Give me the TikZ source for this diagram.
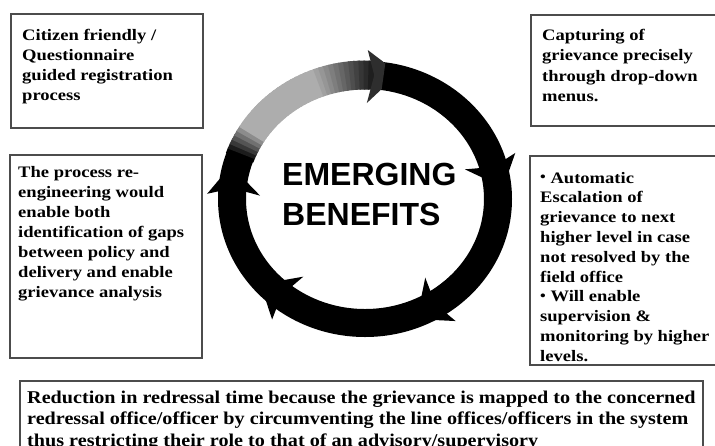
\documentclass[tikz,border=0pt]{standalone}
\usepackage{fontspec}
\setmainfont{Liberation Serif}
\newfontfamily\boxfont[FakeStretch=1.16]{Liberation Serif}
\newfontfamily\botfont[FakeStretch=1.12]{Liberation Serif}
\newfontfamily\headfont{Liberation Sans}
\newcommand{\smbullet}{\raisebox{1.5pt}{\fontsize{14}{14}\selectfont\textbullet}}
\begin{document}
\begin{tikzpicture}[x=1pt,y=-1pt,
  declare function={ex(\t,\d)=365+(133+\d)*cos(\t); ey(\t,\d)=199-(124+\d)*sin(\t);},
  boxline/.style={draw=black!70, line width=1.1pt},
  boxtext/.style={anchor=base west, inner sep=0pt, font=\boxfont\bfseries},
  bottext/.style={anchor=base west, inner sep=0pt, font=\botfont\bfseries},
  headtext/.style={anchor=base west, inner sep=0pt, font=\headfont\bfseries},
]
\clip (0,0) rectangle (715,445);
\fill[white] (0,0) rectangle (715,445);

% boxes
\draw[boxline] (11,14) rectangle (203,128);
\draw[boxline] (531,15) rectangle (725,126);
\draw[boxline] (10,155) rectangle (202,358);
\draw[boxline] (530,156) rectangle (725,365);
\draw[boxline] (20,381) rectangle (703,460);

% box texts
\node[boxtext] (t1) at (22,40) {\parbox[t]{300pt}{\raggedright\fontsize{16}{20}\selectfont
Citizen friendly /\\ Questionnaire\\ guided registration\\ process}};
\node[boxtext] (t2) at (542,40) {\parbox[t]{300pt}{\raggedright\fontsize{16}{20.6}\selectfont
Capturing of\\ grievance precisely\\ through drop-down\\ menus.}};
\node[boxtext] (t3) at (18,177) {\parbox[t]{300pt}{\raggedright\fontsize{16}{20}\selectfont
The process re-\\ engineering would\\ enable both\\ identification of gaps\\ between policy and\\ delivery and enable\\ grievance analysis}};
\node[boxtext] (t4) at (540,183) {\parbox[t]{300pt}{\raggedright\fontsize{16}{19.8}\selectfont
\smbullet\ Automatic\\ Escalation of\\ grievance to next\\ higher level in case\\ not resolved by the\\ field office\\ \smbullet\ Will enable\\ supervision \&\\ monitoring by higher\\ levels.}};
\node[bottext] (t5) at (27,403) {\parbox[t]{700pt}{\raggedright\fontsize{18}{21.5}\selectfont
Reduction in redressal time because the grievance is mapped to the concerned\\
redressal office/officer by circumventing the line offices/officers in the system\\
thus restricting their role to that of an advisory/supervisory}};

% ring
\fill[black, even odd rule] (365,199) ellipse [x radius=147, y radius=138]
  (365,199) ellipse [x radius=119, y radius=110];

% faded section
\foreach \t in {160,158,...,88} {
  \pgfmathsetmacro\gv{\t>148 ? 34+66*(\t-148)/12 : (\t>112 ? 32 : 32+56*(112-\t)/24)}
  \fill[black!\gv] ({ex(\t+0.6,14.5)},{ey(\t+0.6,14.5)}) -- ({ex(\t-2,14.5)},{ey(\t-2,14.5)})
    -- ({ex(\t-2,-14.5)},{ey(\t-2,-14.5)}) -- ({ex(\t+0.6,-14.5)},{ey(\t+0.6,-14.5)}) -- cycle;
}

% arrow barbs
\foreach \a/\col in {89/black!82, 18/black, -55/black, -126/black, 178/black} {
  \fill[\col] ({ex(\a,25)},{ey(\a,25)}) -- ({ex(\a-7,13)},{ey(\a-7,13)})
    -- ({ex(\a-7,-13)},{ey(\a-7,-13)}) -- ({ex(\a,-28)},{ey(\a,-28)})
    -- ({ex(\a-3,0)},{ey(\a-3,0)}) -- cycle;
}

% title
\node[headtext] (title) at (282,185) {\parbox[t]{250pt}{\fontsize{32}{40}\selectfont EMERGING\\ BENEFITS}};
\end{tikzpicture}
\end{document}
